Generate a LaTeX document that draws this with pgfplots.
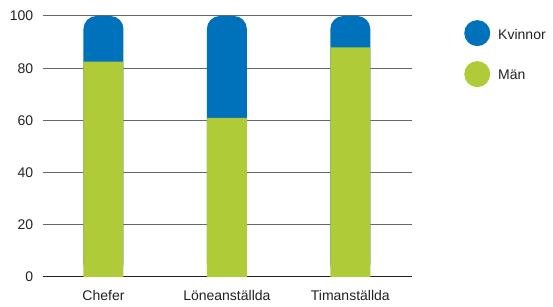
\documentclass[border=0pt]{standalone}
\usepackage{pgfplots}
\pgfplotsset{compat=1.18}
\usepackage{pgfplotstable}
\usepackage{fontspec}
\setmainfont{Liberation Sans}
\definecolor{kblue}{HTML}{0072BC}
\definecolor{mgreen}{HTML}{AFCB37}
\definecolor{gridc}{HTML}{666666}
\definecolor{txt}{HTML}{222222}
\pgfplotstableread{
x man kvinnor
0 82.5 17.5
1 61 39
2 88 12
}\data
\begin{document}
\fontsize{14}{16}\selectfont
\begin{tikzpicture}
\begin{axis}[
 scale only axis, width=369pt, height=261pt,
 xmin=-0.49, xmax=2.5, ymin=0, ymax=100,
 xtick={0,1,2}, xticklabels={Chefer,Löneanställda,Timanställda},
 ytick={0,20,40,60,80,100},
 ymajorgrids, grid style={gridc, line width=1pt},
 extra y ticks={0}, extra y tick labels={}, extra y tick style={grid style={txt, line width=1pt}},
 major tick length=0,
 axis line style={draw=none},
 /pgf/number format/assume math mode=true,
 tick label style={font=\fontsize{14}{16}\selectfont, text=txt},
 yticklabel style={xshift=-5pt},
 xticklabel style={yshift=-8pt},
 ybar, bar width=40pt, bar shift=0pt,
 legend style={at={(rel axis cs:1.141,0.985)}, anchor=north west, draw=none, fill=none,
   inner sep=0pt, row sep=15pt, font=\fontsize{14}{16}\selectfont, text=txt,
   /tikz/every odd column/.append style={column sep=6pt}},
 legend cell align=left,
]
\addplot[fill=kblue, draw=none, rounded corners=13pt,
  legend image code/.code={\fill[kblue] (13pt,0.15em) circle (13pt);}]
  table[x=x, y expr=\thisrow{man}+\thisrow{kvinnor}]{\data};
\addlegendentry{Kvinnor}
\addplot[fill=mgreen, draw=none,
  legend image code/.code={\fill[mgreen] (13pt,0.15em) circle (13pt);}]
  table[x=x, y=man]{\data};
\addlegendentry{Män}
\coordinate (bl) at (rel axis cs:0,0);
\end{axis}
\pgfresetboundingbox
\path (bl) ++(-43pt,-30pt) rectangle ++(553pt,307pt);
\end{tikzpicture}
\end{document}
